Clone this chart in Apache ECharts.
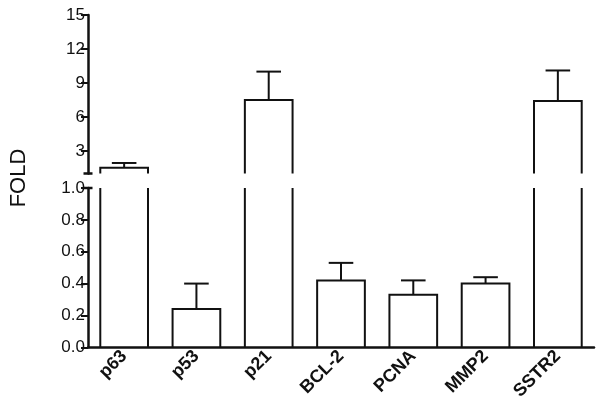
<!DOCTYPE html>
<html>
<head>
<meta charset="utf-8">
<script src="https://cdn.jsdelivr.net/npm/echarts@6/dist/echarts.min.js"></script>
<style>
  html, body { margin: 0; padding: 0; background: #fff; }
  #chart { width: 600px; height: 417px; }
</style>
</head>
<body>
<div id="chart"></div>
<script>
const categories = ["p63", "p53", "p21", "BCL-2", "PCNA", "MMP2", "SSTR2"];
const means = [1.5, 0.24, 7.5, 0.42, 0.33, 0.40, 7.4];
const errors = [0.43, 0.16, 2.5, 0.11, 0.09, 0.04, 2.7];
const lowerTicks = [0, 0.2, 0.4, 0.6, 0.8, 1.0];
const upperTicks = [3, 6, 9, 12, 15];
const breakAt = 1; // axis is broken between 1.0 (lower part) and 1 (upper part)

const font = "'Liberation Sans', Arial, sans-serif";
const ink = "#111";

const seriesData = categories.map((c, i) => [i, means[i], errors[i]]);

function barRenderer(lower) {
  return function (params, api) {
    const idx = api.value(0), v = api.value(1), e = api.value(2);
    const band = api.size([1, 0])[0];
    const half = band * 0.33, cap = band * 0.17;
    const style = { stroke: ink, lineWidth: 2, fill: null };
    const x = api.coord([idx, 0])[0];
    const children = [];
    const errBar = (top) => {
      const ey = api.coord([idx, v + e])[1];
      children.push({ type: "line", shape: { x1: x, y1: top, x2: x, y2: ey }, style });
      children.push({ type: "line", shape: { x1: x - cap, y1: ey, x2: x + cap, y2: ey }, style });
    };
    if (lower) {
      const base = api.coord([idx, 0])[1];
      if (v > breakAt) {
        // tall bar: open at the break
        const top = api.coord([idx, breakAt])[1];
        children.push({ type: "line", shape: { x1: x - half, y1: base, x2: x - half, y2: top }, style });
        children.push({ type: "line", shape: { x1: x + half, y1: base, x2: x + half, y2: top }, style });
      } else {
        const top = api.coord([idx, v])[1];
        children.push({ type: "polyline", shape: { points: [[x - half, base], [x - half, top], [x + half, top], [x + half, base]] }, style });
        errBar(top);
      }
    } else {
      if (v <= breakAt) return null;
      const base = api.coord([idx, breakAt])[1];
      const top = api.coord([idx, v])[1];
      children.push({ type: "polyline", shape: { points: [[x - half, base], [x - half, top], [x + half, top], [x + half, base]] }, style });
      errBar(top);
    }
    return { type: "group", children };
  };
}

const chart = echarts.init(document.getElementById("chart"));

const yCommon = {
  type: "value",
  splitLine: { show: false },
  axisLine: { show: true, lineStyle: { color: ink, width: 2.5 }, symbolSize: [9, 2.5] },
  axisTick: { show: true, length: 7, lineStyle: { color: ink, width: 2 } },
  axisLabel: { color: ink, fontSize: 17, fontFamily: font, margin: 3 },
};

chart.setOption({
  animation: false,
  backgroundColor: "#fff",
  grid: [
    { left: 88, right: 6, top: 15, height: 158.5 },
    { left: 88, right: 6, top: 188, height: 159.3 },
  ],
  xAxis: [
    { gridIndex: 0, type: "category", data: categories, show: false },
    {
      gridIndex: 1,
      type: "category",
      data: categories,
      axisLine: { lineStyle: { color: ink, width: 2.5 } },
      axisTick: { alignWithLabel: true, length: 6, lineStyle: { color: ink, width: 2 } },
      axisLabel: { rotate: 45, color: ink, fontSize: 18, fontWeight: "bold", fontFamily: font, margin: 6 },
    },
  ],
  yAxis: [
    Object.assign({}, yCommon, {
      gridIndex: 0,
      min: breakAt,
      max: 15,
      axisLine: Object.assign({}, yCommon.axisLine, { symbol: ["rect", "none"] }),
      axisTick: Object.assign({}, yCommon.axisTick, { customValues: upperTicks }),
      axisLabel: Object.assign({}, yCommon.axisLabel, { customValues: upperTicks }),
    }),
    Object.assign({}, yCommon, {
      gridIndex: 1,
      min: 0,
      max: 1,
      interval: 0.2,
      axisLine: Object.assign({}, yCommon.axisLine, { symbol: ["none", "rect"] }),
      axisLabel: Object.assign({}, yCommon.axisLabel, { formatter: (v) => v.toFixed(1) }),
    }),
  ],
  graphic: [
    {
      type: "text",
      x: 19,
      y: 178,
      rotation: Math.PI / 2,
      style: { text: "FOLD", fontSize: 22, fontFamily: font, fill: ink, align: "center", verticalAlign: "middle" },
    },
  ],
  series: [
    { type: "custom", xAxisIndex: 0, yAxisIndex: 0, data: seriesData, renderItem: barRenderer(false) },
    { type: "custom", xAxisIndex: 1, yAxisIndex: 1, data: seriesData, renderItem: barRenderer(true) },
  ],
});
</script>
</body>
</html>
